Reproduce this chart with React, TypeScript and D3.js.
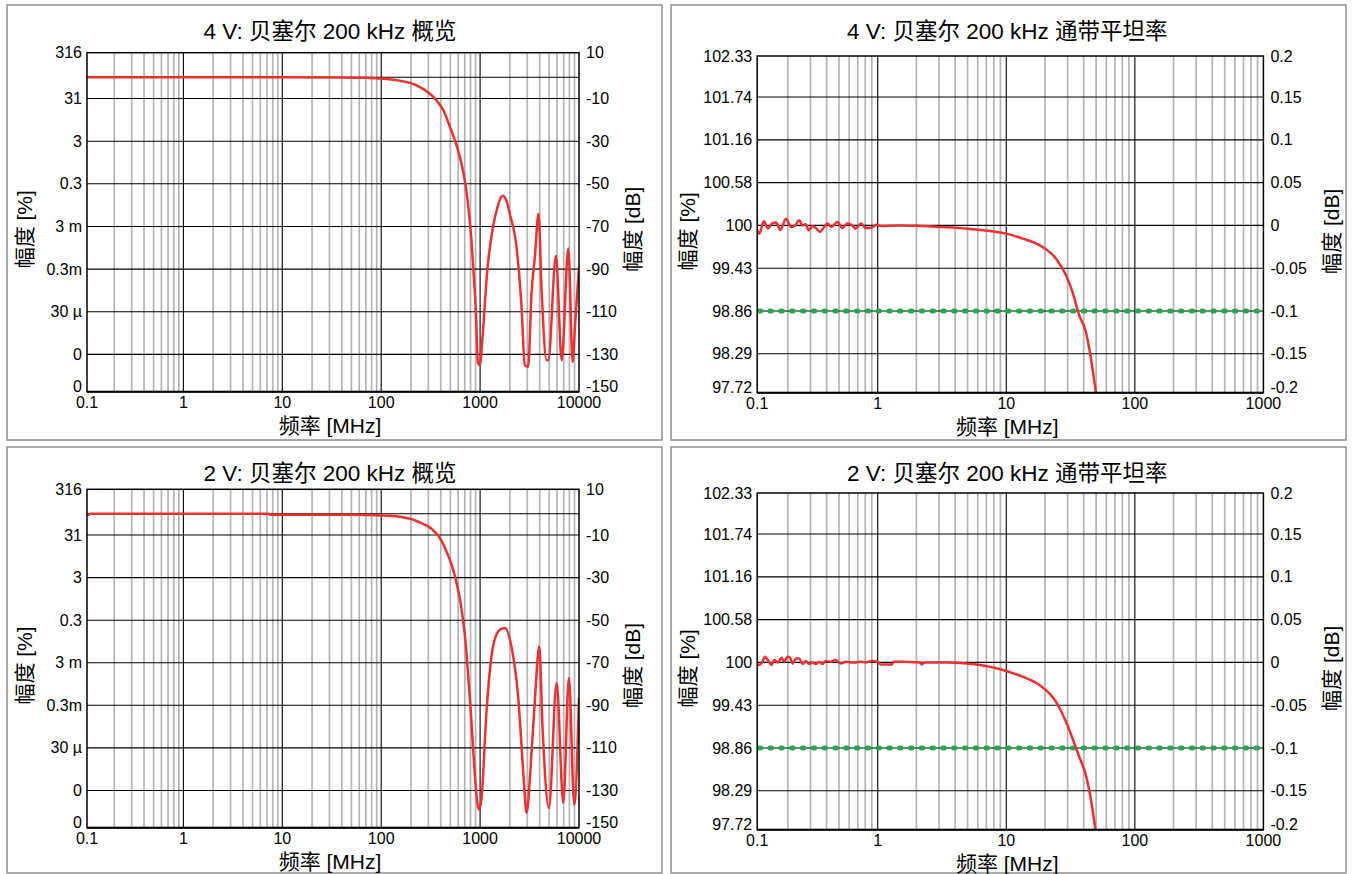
import React from 'react';
import * as d3 from 'd3';

const W = 1356;
const H = 874;
const FONT = "'Liberation Sans', Arial, 'Noto Sans CJK SC', sans-serif";

// ---------- axis ticks / labels ----------
const overviewFreqTicks = [0.1, 1, 10, 100, 1000, 10000];
const overviewFreqLabels = ['0.1', '1', '10', '100', '1000', '10000'];
const flatFreqTicks = [0.1, 1, 10, 100, 1000];
const flatFreqLabels = ['0.1', '1', '10', '100', '1000'];

const overviewDbTicks = [10, 0, -10, -30, -50, -70, -90, -110, -130, -150];
const overviewPctLabels = ['316', '', '31', '3', '0.3', '3 m', '0.3m', '30 µ', '0', '0'];
const overviewDbLabels = ['10', '', '-10', '-30', '-50', '-70', '-90', '-110', '-130', '-150'];

const flatDbTicks = [0.2, 0.15, 0.1, 0.05, 0, -0.05, -0.1, -0.15, -0.2];
const flatPctLabels = ['102.33', '101.74', '101.16', '100.58', '100', '99.43', '98.86', '98.29', '97.72'];
const flatDbLabels = ['0.2', '0.15', '0.1', '0.05', '0', '-0.05', '-0.1', '-0.15', '-0.2'];

const flatLimitDb = -0.1;

const panelTitles = [
  '4 V: 贝塞尔 200 kHz 概览',
  '4 V: 贝塞尔 200 kHz 通带平坦率',
  '2 V: 贝塞尔 200 kHz 概览',
  '2 V: 贝塞尔 200 kHz 通带平坦率',
];
const xAxisTitle = '频率 [MHz]';
const yLeftTitle = '幅度 [%]';
const yRightTitle = '幅度 [dB]';

// ---------- series: [frequency MHz, amplitude dB] ----------
const overview4V: [number, number][] = [
  [0.1, 0], [10, 0], [40, -0.1], [70, -0.3], [100, -0.6], [153, -1.6], [200, -2.8], [244, -4.5],
  [300, -7.2], [360, -10.7], [430, -16], [492, -23], [560, -30], [621, -37], [680, -45], [725, -53],
  [770, -63], [816, -76], [860, -92], [902, -107.7],
  [952, -134], [991, -135], [1054, -123], [1175, -92], [1352, -70], [1500, -61], [1644, -56],
  [1707, -55.7], [1850, -58], [1995, -64], [2333, -79.5], [2624, -107.7], [2833, -135],
  [3062, -135.8], [3311, -101.4], [3581, -84.2], [3899, -64], [4186, -99.8],
  [4699, -132.7], [4887, -132.7], [5848, -83.9], [6683, -132.7], [7798, -80.3],
  [8630, -133.5], [9099, -117], [10000, -88.9],
];

const overview2V: [number, number][] = [
  [0.1, 0], [0.104, -0.4], [0.11, -0.4], [0.115, 0], [7.3, 0], [7.5, -0.4], [50, -0.5],
  [100, -0.8], [153, -1.4], [200, -2.4], [244, -4.0], [290, -5.6], [333, -7.6], [400, -12],
  [455, -17.5], [520, -24.5], [575, -32], [625, -40], [672, -49.8], [715, -61], [754, -74.8],
  [800, -91], [847, -109.3], [930, -134.3], [968, -139], [1030, -134.3],
  [1158, -93.6], [1352, -62.4], [1581, -54.5], [1778, -53.7], [2075, -62.4],
  [2423, -85.8], [2766, -124.9], [2949, -140.5], [3262, -117.1], [3581, -87.4],
  [3963, -62.4], [4289, -101.5], [4966, -138.2], [5943, -79.5], [6934, -135.8],
  [7907, -77.2], [8954, -136.6], [10000, -86.6],
];

const flat4V: [number, number][] = [
  [0.116, -0.006], [0.12, -0.0096], [0.13, 0.0049], [0.14, -0.0037], [0.15, 0.0021],
  [0.162, 0.0033], [0.175, -0.0056], [0.193, 0.0079], [0.212, -0.0018], [0.228, 0],
  [0.245, 0.006], [0.26, 0], [0.276, 0.0014], [0.29, -0.0056], [0.311, -0.0006],
  [0.33, -0.003], [0.356, -0.0076], [0.378, -0.003], [0.406, 0.0021], [0.436, -0.0018],
  [0.486, 0.004], [0.531, -0.003], [0.58, 0.0021], [0.634, 0], [0.673, -0.0037],
  [0.744, 0.0021], [0.804, -0.003], [0.878, -0.003], [0.99, 0.001], [1.05, -0.0006],
  [1.5, 0], [2, -0.0005], [3.05, -0.0018], [5.52, -0.0045], [10, -0.0096],
  [13.4, -0.0154], [18.1, -0.023], [24.3, -0.0387], [29.1, -0.058], [32.7, -0.0776],
  [36.9, -0.1048], [41.5, -0.124], [45.5, -0.155], [50, -0.197], [52, -0.215],
];

const flat2V: [number, number][] = [
  [0.116, -0.002], [0.12, -0.003], [0.126, 0], [0.133, 0.0066], [0.14, 0.0027],
  [0.149, -0.003], [0.157, 0.0027], [0.167, 0], [0.179, 0.0054], [0.187, 0.0008],
  [0.199, 0.0066], [0.208, 0.0054], [0.218, -0.0012], [0.231, 0.0047], [0.245, 0.0047],
  [0.26, -0.0019], [0.276, 0.0016], [0.293, -0.0019], [0.311, 0], [0.33, -0.0019],
  [0.35, 0.0008], [0.372, -0.0019], [0.394, 0.0016], [0.432, 0.0008], [0.471, 0.0027],
  [0.515, -0.0012], [0.563, 0.0008], [0.615, 0], [0.673, 0], [0.735, 0.0008],
  [0.803, 0], [0.905, 0.0016], [0.99, 0.0008], [1.05, -0.0023], [1.18, -0.0023],
  [1.29, -0.0023], [1.33, 0.0008], [1.5, 0.0008], [2.14, 0], [2.2, -0.0023],
  [2.34, 0], [3.54, 0], [5.5, -0.0019], [10, -0.01], [13.4, -0.0167], [18.1, -0.0264],
  [24.3, -0.0458], [29.1, -0.069], [32.7, -0.0886], [36.9, -0.11], [41.5, -0.131],
  [45.5, -0.16], [50, -0.2], [52, -0.215],
];

// ---------- layout ----------
type PanelCfg = {
  id: string;
  frame: { x: number; y: number; w: number; h: number };
  l: number; r: number; t: number; b: number;
  xDomain: [number, number];
  yDomain: [number, number];
  xTicks: number[]; xLabels: string[];
  yTicks: number[]; yLeftLabels: string[]; yRightLabels: string[];
  title: string;
  data: [number, number][];
  limit?: number;
  leftTitleX: number; rightTitleX: number;
};

const overviewX: [number, number] = [0.106, 10000];
const flatX: [number, number] = [0.1155, 1000];
const overviewY: [number, number] = [11.5, -147.5];
const flatY: [number, number] = [0.198, -0.1955];

const panels: PanelCfg[] = [
  {
    id: 'tl', frame: { x: 7, y: 5, w: 655, h: 435 }, l: 87, r: 579, t: 52.7, b: 391.7,
    xDomain: overviewX, yDomain: overviewY, xTicks: overviewFreqTicks, xLabels: overviewFreqLabels,
    yTicks: overviewDbTicks, yLeftLabels: overviewPctLabels, yRightLabels: overviewDbLabels,
    title: panelTitles[0], data: overview4V, leftTitleX: 25, rightTitleX: 633,
  },
  {
    id: 'tr', frame: { x: 671, y: 5, w: 675, h: 435 }, l: 757.2, r: 1263.4, t: 56, b: 392.7,
    xDomain: flatX, yDomain: flatY, xTicks: flatFreqTicks, xLabels: flatFreqLabels,
    yTicks: flatDbTicks, yLeftLabels: flatPctLabels, yRightLabels: flatDbLabels,
    title: panelTitles[1], data: flat4V, limit: flatLimitDb, leftTitleX: 688, rightTitleX: 1332,
  },
  {
    id: 'bl', frame: { x: 7, y: 447, w: 655, h: 426 }, l: 87, r: 579, t: 489.3, b: 827.7,
    xDomain: overviewX, yDomain: overviewY, xTicks: overviewFreqTicks, xLabels: overviewFreqLabels,
    yTicks: overviewDbTicks, yLeftLabels: overviewPctLabels, yRightLabels: overviewDbLabels,
    title: panelTitles[2], data: overview2V, leftTitleX: 25, rightTitleX: 633,
  },
  {
    id: 'br', frame: { x: 671, y: 447, w: 675, h: 426 }, l: 757.2, r: 1263.4, t: 493, b: 829.7,
    xDomain: flatX, yDomain: flatY, xTicks: flatFreqTicks, xLabels: flatFreqLabels,
    yTicks: flatDbTicks, yLeftLabels: flatPctLabels, yRightLabels: flatDbLabels,
    title: panelTitles[3], data: flat2V, limit: flatLimitDb, leftTitleX: 688, rightTitleX: 1332,
  },
];

function Panel({ p }: { p: PanelCfg }) {
  const x = d3.scaleLog().domain(p.xDomain).range([p.l, p.r]).clamp(true);
  const y = d3.scaleLinear().domain(p.yDomain).range([p.t, p.b]);

  const minors: number[] = [];
  for (let e = -1; e < 4; e++) {
    for (let m = 2; m <= 9; m++) {
      const v = m * Math.pow(10, e);
      if (v > p.xDomain[0] && v < p.xDomain[1]) minors.push(v);
    }
  }
  const majors = p.xTicks.filter((v) => v > p.xDomain[0] && v < p.xDomain[1]);
  const line = d3
    .line<[number, number]>()
    .x((d) => x(d[0]))
    .y((d) => y(d[1]))
    .curve(d3.curveMonotoneX);
  const n = p.yTicks.length;
  const labelY = (i: number) => (i === 0 ? p.t : i === n - 1 ? p.b - 5 : y(p.yTicks[i]));
  const cx = (p.l + p.r) / 2 - 3;
  const cy = (p.t + p.b) / 2 + 7;

  return (
    <g>
      <rect x={p.frame.x} y={p.frame.y} width={p.frame.w} height={p.frame.h} fill="#fff" stroke="#8f8f8f" strokeWidth={1.5} />
      <clipPath id={`clip-${p.id}`}>
        <rect x={p.l} y={p.t} width={p.r - p.l} height={p.b - p.t} />
      </clipPath>
      {minors.map((v) => (
        <line key={`mn${v}`} x1={x(v)} x2={x(v)} y1={p.t} y2={p.b} stroke="#b4b4b4" strokeWidth={1.7} />
      ))}
      {majors.map((v) => (
        <line key={`mj${v}`} x1={x(v)} x2={x(v)} y1={p.t} y2={p.b} stroke="#000" strokeWidth={1.1} />
      ))}
      {p.yTicks.slice(1, n - 1).map((v) => (
        <line key={`h${v}`} x1={p.l} x2={p.r} y1={y(v)} y2={y(v)} stroke="#000" strokeWidth={1.1} />
      ))}
      {p.limit !== undefined && (
        <line x1={p.l + 2} x2={p.r} y1={y(p.limit)} y2={y(p.limit)} stroke="#22a94b" strokeWidth={5}
          strokeLinecap="round" strokeDasharray="1.5 9.3" />
      )}
      <path d={line(p.data) || ''} fill="none" stroke="#ee3030" strokeWidth={2.5} strokeLinejoin="round"
        clipPath={`url(#clip-${p.id})`} />
      <rect x={p.l} y={p.t} width={p.r - p.l} height={p.b - p.t} fill="none" stroke="#000" strokeWidth={1.5} />
      <line x1={p.l} x2={p.r} y1={p.b} y2={p.b} stroke="#000" strokeWidth={2} />

      {p.yLeftLabels.map((s, i) => (
        <text key={`yl${i}`} x={p.l - 5} y={labelY(i)} dy="0.35em" textAnchor="end" fontSize={16} fontFamily={FONT}>{s}</text>
      ))}
      {p.yRightLabels.map((s, i) => (
        <text key={`yr${i}`} x={p.r + 7} y={labelY(i)} dy="0.35em" textAnchor="start" fontSize={16} fontFamily={FONT}>{s}</text>
      ))}
      {p.xTicks.map((v, i) => (
        <text key={`xl${v}`} x={x(v)} y={p.b + 11} dy="0.35em" textAnchor="middle" fontSize={16} fontFamily={FONT}>{p.xLabels[i]}</text>
      ))}
      <text x={cx} y={p.frame.y + 26} dy="0.35em" textAnchor="middle" fontSize={22.5} fontFamily={FONT}>{p.title}</text>
      <text x={cx} y={p.b + 34} dy="0.35em" textAnchor="middle" fontSize={21} fontFamily={FONT}>{xAxisTitle}</text>
      <text transform={`translate(${p.leftTitleX},${cy}) rotate(-90)`} dy="0.35em" textAnchor="middle" fontSize={21} fontFamily={FONT}>{yLeftTitle}</text>
      <text transform={`translate(${p.rightTitleX},${cy}) rotate(-90)`} dy="0.35em" textAnchor="middle" fontSize={21} fontFamily={FONT}>{yRightTitle}</text>
    </g>
  );
}

export default function App() {
  return (
    <svg width={W} height={H} style={{ position: 'absolute', left: 0, top: 0, background: '#fff' }}>
      {panels.map((p) => (
        <Panel key={p.id} p={p} />
      ))}
    </svg>
  );
}
